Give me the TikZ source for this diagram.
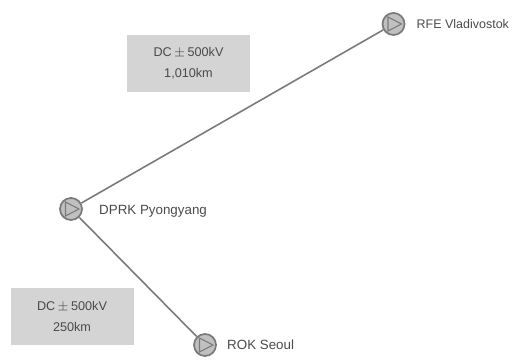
\documentclass[tikz,border=0pt]{standalone}
\usepackage{fontspec}
\setmainfont{Liberation Sans}
\usetikzlibrary{positioning}
\definecolor{boxgray}{HTML}{D4D4D4}
\definecolor{linegray}{HTML}{7A7A7A}
\definecolor{stationgray}{HTML}{C0C0C0}
\definecolor{textgray}{HTML}{4A4A4A}
\tikzset{
  station/.style={circle, draw=linegray, line width=1pt, fill=stationgray, minimum size=0.44cm, inner sep=0pt,
    path picture={\draw[linegray, line width=0.6pt] ([xshift=-0.11cm,yshift=0.14cm]path picture bounding box.center) -- ([xshift=0.16cm]path picture bounding box.center) -- ([xshift=-0.11cm,yshift=-0.14cm]path picture bounding box.center) -- cycle;}},
  place/.style={text=textgray, font=\fontsize{7.6}{9}\selectfont, inner sep=0pt},
  linebox/.style={fill=boxgray, minimum width=2.46cm, minimum height=1.14cm, align=center, text=textgray, font=\fontsize{7.2}{12}\selectfont, inner sep=0pt, execute at begin node=\rule{0pt}{0.27cm}},
  link/.style={draw=linegray, line width=0.9pt}
}
\begin{document}
\begin{tikzpicture}
\useasboundingbox (0,0) rectangle (10.26,7.2);
\node[linebox] (boxnorth) at (3.77,5.93) {DC$\,\pm\,$500kV\\1,010km};
\node[linebox] (boxsouth) at (1.44,0.87) {DC$\,\pm\,$500kV\\250km};

\node[station] (rfe) at (7.87,6.72) {};
\node[station] (dprk) at (1.42,3.02) {};
\node[station] (rok) at (4.10,0.30) {};

\node[place, font=\fontsize{7.1}{9}\selectfont, right=0.22cm of rfe] (rfelabel) {RFE Vladivostok};
\node[place, right=0.32cm of dprk, yshift=-0.04cm] (dprklabel) {DPRK Pyongyang};
\node[place, right=0.2cm of rok] (roklabel) {ROK Seoul};

\draw[link] (dprk) -- (rfe);
\draw[link] (dprk) -- (rok);
\end{tikzpicture}
\end{document}
